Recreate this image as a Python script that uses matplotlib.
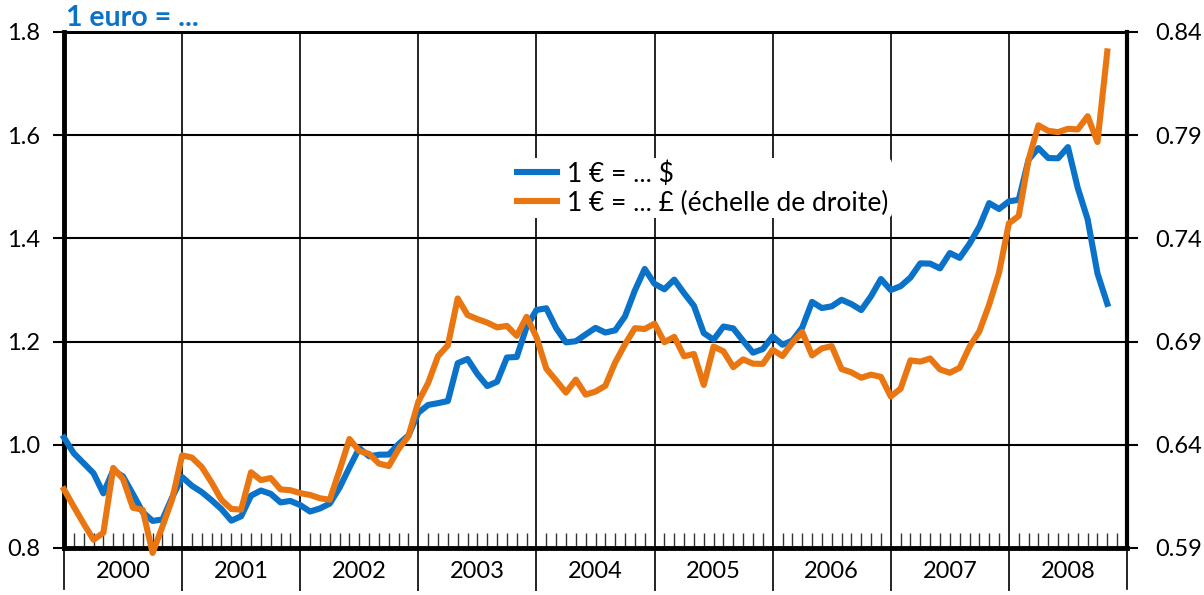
import matplotlib.pyplot as plt
import numpy as np
from matplotlib.ticker import FixedLocator

plt.rcParams['font.family'] = ['Lato', 'DejaVu Sans']

years = ['2000', '2001', '2002', '2003', '2004', '2005', '2006', '2007', '2008']

# monthly averages, Jan 2000 .. Nov 2008
usd = [1.0139, 0.9834, 0.9643, 0.9449, 0.9059, 0.9505, 0.9386, 0.9045, 0.8695, 0.8525, 0.8552, 0.8983,
       0.9376, 0.9205, 0.9083, 0.8925, 0.8753, 0.8530, 0.8615, 0.9014, 0.9114, 0.9050, 0.8883, 0.8912,
       0.8832, 0.8707, 0.8766, 0.8860, 0.9170, 0.9561, 0.9935, 0.9777, 0.9808, 0.9811, 1.0014, 1.0183,
       1.0622, 1.0773, 1.0807, 1.0848, 1.1582, 1.1663, 1.1372, 1.1139, 1.1222, 1.1692, 1.1702, 1.2286,
       1.2613, 1.2646, 1.2262, 1.1985, 1.2007, 1.2138, 1.2266, 1.2176, 1.2218, 1.2490, 1.2991, 1.3408,
       1.3119, 1.3014, 1.3201, 1.2938, 1.2694, 1.2165, 1.2037, 1.2292, 1.2256, 1.2015, 1.1786, 1.1856,
       1.2103, 1.1938, 1.2020, 1.2271, 1.2770, 1.2650, 1.2684, 1.2811, 1.2727, 1.2611, 1.2881, 1.3213,
       1.2999, 1.3074, 1.3242, 1.3516, 1.3511, 1.3419, 1.3716, 1.3622, 1.3896, 1.4227, 1.4684, 1.4570,
       1.4718, 1.4748, 1.5527, 1.5751, 1.5557, 1.5553, 1.5770, 1.4975, 1.4370, 1.3322, 1.2732]

gbp = [0.6184, 0.6100, 0.6018, 0.5940, 0.5974, 0.6288, 0.6234, 0.6095, 0.6085, 0.5876, 0.6004, 0.6138,
       0.6349, 0.6338, 0.6292, 0.6217, 0.6133, 0.6089, 0.6086, 0.6267, 0.6229, 0.6239, 0.6184, 0.6180,
       0.6166, 0.6157, 0.6141, 0.6134, 0.6277, 0.6428, 0.6370, 0.6356, 0.6309, 0.6297, 0.6380, 0.6442,
       0.6609, 0.6700, 0.6830, 0.6882, 0.7109, 0.7029, 0.7009, 0.6992, 0.6969, 0.6976, 0.6928, 0.7020,
       0.6922, 0.6769, 0.6712, 0.6653, 0.6716, 0.6643, 0.6658, 0.6686, 0.6799, 0.6887, 0.6965, 0.6961,
       0.6987, 0.6897, 0.6923, 0.6829, 0.6840, 0.6690, 0.6876, 0.6853, 0.6776, 0.6814, 0.6793, 0.6792,
       0.6860, 0.6830, 0.6894, 0.6946, 0.6833, 0.6867, 0.6878, 0.6767, 0.6751, 0.6725, 0.6740, 0.6729,
       0.6634, 0.6672, 0.6809, 0.6803, 0.6818, 0.6765, 0.6749, 0.6773, 0.6875, 0.6950, 0.7080, 0.7234,
       0.7473, 0.7509, 0.7782, 0.7948, 0.7921, 0.7915, 0.7931, 0.7928, 0.7992, 0.7867, 0.8306]

months = np.arange(len(usd))
blue = '#0A72C8'
orange = '#EA7612'

fig = plt.figure(figsize=(12.04, 5.95), dpi=100)
ax = fig.add_axes([64 / 1204, 47 / 595, 1063 / 1204, 516 / 595])
ax2 = ax.twinx()

ax.plot(months, usd, color=blue, lw=4.4, clip_on=False, zorder=3)
ax2.plot(months, gbp, color=orange, lw=4.4, clip_on=False, zorder=3)

ax.set_xlim(0, 108)
ax.set_ylim(0.8, 1.8)
ax2.set_ylim(0.59, 0.84)
ax.set_yticks([0.8, 1.0, 1.2, 1.4, 1.6, 1.8])
ax2.set_yticks([0.59, 0.64, 0.69, 0.74, 0.79, 0.84])
ax.set_yticklabels(['0.8', '1.0', '1.2', '1.4', '1.6', '1.8'])
ax2.set_yticklabels(['0.59', '0.64', '0.69', '0.74', '0.79', '0.84'])

ax.tick_params(axis='y', direction='out', length=8, width=1.5, pad=9, labelsize=17)
ax2.tick_params(axis='y', direction='out', length=8, width=1.5, pad=12, labelsize=17)

# horizontal grid
for v in [1.0, 1.2, 1.4, 1.6]:
    ax.axhline(v, color='black', lw=1.5, zorder=1)

# year boundaries: grid lines plus long ticks below the axis
ax.xaxis.set_major_locator(FixedLocator(np.arange(12, 108, 12)))
ax.xaxis.set_minor_locator(FixedLocator([m for m in range(1, 108) if m % 12 != 0]))
ax.tick_params(axis='x', which='major', direction='out', length=31, width=1.2, labelbottom=False)
ax.tick_params(axis='x', which='minor', direction='in', length=11, width=1.0, color='#333333')
for x in np.arange(12, 108, 12):
    ax.axvline(x, color='black', lw=1.2, zorder=1)
for x in (0, 108):
    ax.plot([x, x], [0.8, 0.72], color='black', lw=1.2, clip_on=False)

for i, y in enumerate(years):
    ax.text(i * 12 + 6, 0.755, y, ha='center', va='center', fontsize=17)

for s in ['left', 'bottom']:
    ax.spines[s].set_linewidth(3.5)
ax.spines['top'].set_linewidth(2)
ax.spines['right'].set_visible(False)
ax2.spines['right'].set_linewidth(3)
ax2.spines['top'].set_linewidth(2)
ax2.spines['left'].set_visible(False)
ax2.spines['bottom'].set_visible(False)

ax.plot([], [], color=blue, lw=4.4, label='1 € = ... $')
ax.plot([], [], color=orange, lw=4.4, label='1 € = ... £ (échelle de droite)')
leg = ax2.legend(handles=ax.get_lines()[-2:], loc='upper left', bbox_to_anchor=(0.424, 0.755),
                 fontsize=19, handlelength=1.5, handletextpad=0.4, labelspacing=0.15,
                 frameon=True, borderpad=0.1, borderaxespad=0)
leg.get_frame().set_edgecolor('none')
leg.get_frame().set_facecolor('white')
leg.get_frame().set_alpha(1)

fig.text(66 / 1204, 1 - 26 / 595, '1 euro = ...', color=blue, fontsize=20.5, fontweight='bold',
         ha='left', va='baseline')

fig.savefig('out.png', dpi=100)
